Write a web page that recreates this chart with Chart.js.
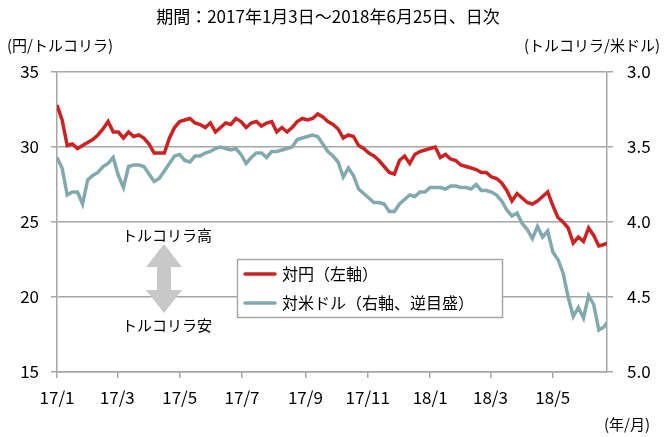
<!DOCTYPE html>
<html>
<head>
<meta charset="utf-8">
<script src="https://cdn.jsdelivr.net/npm/chart.js@4/dist/chart.umd.min.js"></script>
<style>
html, body { margin: 0; padding: 0; background: #fff; }
</style>
</head>
<body>
<canvas id="myChart" width="670" height="437"></canvas>
<script>
// days counted from 2017/1/3
var days = [0,5,10,15,20,25,30,35,40,45,50,55,60,65,70,75,80,85,90,95,
    100,105,110,115,120,125,130,135,140,145,150,155,160,165,170,175,180,185,190,195,
    200,205,210,215,220,225,230,235,240,245,250,255,260,265,270,275,280,285,290,295,
    300,305,310,315,320,325,330,335,340,345,350,355,360,365,370,375,380,385,390,395,
    400,405,410,415,420,425,430,435,440,445,450,455,460,465,470,475,480,485,490,495,
    500,505,510,515,520,525,530,535,538];

// 対円 (円/トルコリラ)
var jpy = [32.8,31.8,30.1,30.2,29.9,30.1,30.3,30.5,30.8,31.2,31.7,31.0,31.0,30.6,31.0,30.7,30.8,30.6,30.2,29.6,
    29.6,29.6,30.6,31.3,31.7,31.8,31.9,31.6,31.5,31.3,31.6,31.0,31.3,31.6,31.5,31.9,31.7,31.3,31.6,31.7,
    31.4,31.6,31.7,31.0,31.3,31.0,31.3,31.7,31.9,31.8,31.9,32.2,32.0,31.7,31.5,31.2,30.6,30.8,30.7,30.1,
    29.9,29.6,29.4,29.1,28.7,28.3,28.2,29.1,29.4,28.9,29.5,29.7,29.8,29.9,30.0,29.3,29.5,29.2,29.1,28.8,
    28.7,28.6,28.5,28.3,28.3,28.0,27.9,27.6,27.1,26.4,26.9,26.6,26.3,26.2,26.4,26.7,27.0,26.1,25.3,25.0,
    24.6,23.6,24.0,23.7,24.6,24.1,23.4,23.5,23.6];

// 対米ドル (トルコリラ/米ドル)
var usd = [3.57,3.64,3.82,3.80,3.80,3.88,3.72,3.69,3.67,3.63,3.61,3.57,3.69,3.77,3.63,3.62,3.62,3.63,3.68,3.73,
    3.71,3.66,3.61,3.56,3.55,3.59,3.60,3.56,3.56,3.54,3.53,3.51,3.50,3.51,3.52,3.51,3.55,3.61,3.57,3.54,
    3.54,3.57,3.53,3.53,3.52,3.51,3.50,3.45,3.44,3.43,3.42,3.43,3.48,3.53,3.56,3.60,3.70,3.64,3.69,3.78,
    3.81,3.84,3.87,3.87,3.88,3.93,3.93,3.88,3.85,3.82,3.83,3.80,3.80,3.77,3.77,3.77,3.78,3.76,3.76,3.77,
    3.77,3.78,3.75,3.79,3.79,3.80,3.82,3.86,3.92,3.96,3.94,4.01,4.05,4.11,4.03,4.10,4.06,4.20,4.25,4.34,
    4.50,4.63,4.57,4.64,4.49,4.55,4.72,4.70,4.67];

var tickDays = [0,59,120,181,243,304,365,424,485];
var tickLabels = ["17/1","17/3","17/5","17/7","17/9","17/11","18/1","18/3","18/5"];

var redColor = "#cc2222";
var tealColor = "#82a9ae";
var gridColor = "#a6a6a6";
var jpFont = '"Noto Sans CJK JP", sans-serif';

var extras = {
    id: "extras",
    afterDraw: function (chart) {
        var ctx = chart.ctx;
        ctx.save();
        ctx.fillStyle = "#000";
        ctx.textBaseline = "middle";

        ctx.font = "17px " + jpFont;
        ctx.textAlign = "center";
        ctx.fillText("期間：2017年1月3日～2018年6月25日、日次", 328, 17);

        ctx.font = "15px " + jpFont;
        ctx.textAlign = "left";
        ctx.fillText("(円/トルコリラ)", 7, 45);
        ctx.textAlign = "right";
        ctx.fillText("(トルコリラ/米ドル)", 660, 45);
        ctx.fillText("(年/月)", 650, 424);

        // arrow
        ctx.fillStyle = "#c8c8c8";
        ctx.beginPath();
        ctx.moveTo(164, 244);
        ctx.lineTo(182, 267);
        ctx.lineTo(171, 267);
        ctx.lineTo(171, 290);
        ctx.lineTo(182, 290);
        ctx.lineTo(164, 313);
        ctx.lineTo(146, 290);
        ctx.lineTo(157, 290);
        ctx.lineTo(157, 267);
        ctx.lineTo(146, 267);
        ctx.closePath();
        ctx.fill();

        ctx.fillStyle = "#000";
        ctx.textAlign = "center";
        ctx.font = "15px " + jpFont;
        ctx.fillText("トルコリラ高", 167, 235);
        ctx.fillText("トルコリラ安", 167, 325);

        // legend box
        ctx.fillStyle = "#fff";
        ctx.fillRect(237.5, 259.5, 265, 58);
        ctx.strokeStyle = gridColor;
        ctx.lineWidth = 1.5;
        ctx.strokeRect(237.5, 259.5, 265, 58);

        var ds = chart.data.datasets;
        var rows = [274, 303];
        ctx.lineWidth = 3.5;
        ctx.lineCap = "round";
        for (var i = 0; i < ds.length; i++) {
            ctx.strokeStyle = ds[i].borderColor;
            ctx.beginPath();
            ctx.moveTo(245, rows[i]);
            ctx.lineTo(275, rows[i]);
            ctx.stroke();
            ctx.fillStyle = "#000";
            ctx.textAlign = "left";
            ctx.font = "16px " + jpFont;
            ctx.fillText(ds[i].label, 282, rows[i]);
        }
        ctx.restore();
    }
};

var ctx = document.getElementById("myChart").getContext("2d");
var myLineChart = new Chart(ctx, {
    type: "line",
    data: {
        datasets: [
            {
                label: "対円（左軸）",
                data: days.map(function (d, i) { return { x: d, y: jpy[i] }; }),
                borderColor: redColor,
                borderWidth: 3.5,
                pointRadius: 0,
                yAxisID: "y",
                fill: false
            },
            {
                label: "対米ドル（右軸、逆目盛）",
                data: days.map(function (d, i) { return { x: d, y: usd[i] }; }),
                borderColor: tealColor,
                borderWidth: 3.5,
                pointRadius: 0,
                yAxisID: "y2",
                fill: false
            }
        ]
    },
    options: {
        responsive: false,
        animation: false,
        devicePixelRatio: 1,
        layout: { padding: { top: 72, left: 0, right: 0, bottom: 0 } },
        plugins: {
            legend: { display: false },
            tooltip: { enabled: false }
        },
        scales: {
            x: {
                type: "linear",
                min: 0,
                max: 538,
                afterBuildTicks: function (axis) {
                    axis.ticks = tickDays.map(function (v) { return { value: v }; });
                },
                afterFit: function (axis) { axis.height = 65; },
                ticks: {
                    autoSkip: false,
                    maxRotation: 0,
                    padding: 9,
                    color: "#000",
                    font: { family: jpFont, size: 17 },
                    callback: function (v) { return tickLabels[tickDays.indexOf(v)]; }
                },
                grid: { drawOnChartArea: false, tickLength: 6, color: gridColor, lineWidth: 1.5 },
                border: { color: gridColor, width: 1.5 }
            },
            y: {
                position: "left",
                min: 15,
                max: 35,
                afterFit: function (axis) { axis.width = 57; },
                ticks: {
                    stepSize: 5,
                    padding: 12,
                    color: "#000",
                    font: { family: jpFont, size: 17 }
                },
                grid: { color: gridColor, lineWidth: 1.5, tickLength: 6 },
                border: { color: gridColor, width: 1.5 }
            },
            y2: {
                position: "right",
                min: 3,
                max: 5,
                reverse: true,
                afterFit: function (axis) { axis.width = 63; },
                ticks: {
                    stepSize: 0.5,
                    padding: 14,
                    color: "#000",
                    font: { family: jpFont, size: 17 },
                    callback: function (v) { return v.toFixed(1); }
                },
                grid: { drawOnChartArea: false, tickLength: 6, color: gridColor, lineWidth: 1.5 },
                border: { color: gridColor, width: 1.5 }
            }
        }
    },
    plugins: [extras]
});
</script>
</body>
</html>
